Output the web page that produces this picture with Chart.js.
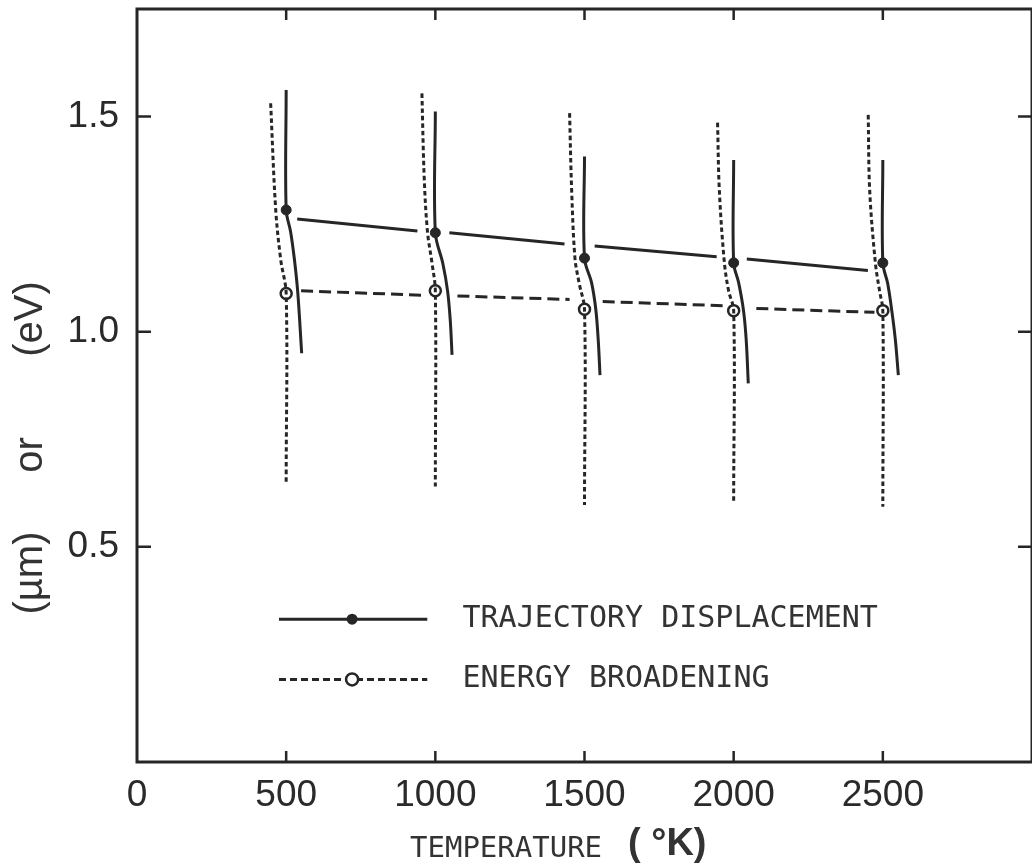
<!DOCTYPE html>
<html>
<head>
<meta charset="utf-8">
<script src="https://cdn.jsdelivr.net/npm/chart.js@4.4.1/dist/chart.umd.min.js"></script>
<style>
    html, body { margin: 0; padding: 0; background: #fff; overflow: hidden; }
    #wrap { position: relative; width: 1040px; height: 866px; }
</style>
</head>
<body>
<div id="wrap"><canvas id="chart"></canvas></div>
<script>
// Temperatures and point values
const temps = [500, 1000, 1500, 2000, 2500];
const trajValues = [1.283, 1.230, 1.171, 1.160, 1.160];
const energyValues = [1.089, 1.095, 1.052, 1.049, 1.049];

const xTickValues = [0, 500, 1000, 1500, 2000, 2500];
const yTickValues = [0.5, 1.0, 1.5];
const xTickLabels = ['0', '500', '1000', '1500', '2000', '2500'];
const yTickLabels = ['0.5', '1.0', '1.5'];

// Solid bars (trajectory displacement), top -> marker -> bent tail
const trajCurve500 = [[500, 1.562], [500, 1.283], [515, 1.232], [528, 1.166], [539, 1.090], [552, 0.950]];
const trajCurve1000 = [[1000, 1.512], [1000, 1.230], [1025, 1.159], [1041, 1.095], [1050, 1.027], [1056, 0.946]];
const trajCurve1500 = [[1500, 1.407], [1500, 1.171], [1524, 1.113], [1538, 1.051], [1546, 0.981], [1552, 0.899]];
const trajCurve2000 = [[2000, 1.399], [2000, 1.160], [2017, 1.113], [2033, 1.049], [2042, 0.981], [2049, 0.880]];
const trajCurve2500 = [[2500, 1.399], [2500, 1.160], [2516, 1.113], [2530, 1.049], [2542, 0.981], [2552, 0.899]];

// Dotted bars (energy broadening), slanted top -> marker -> straight down
const energyCurve500 = [[448, 1.531], [465, 1.283], [482, 1.166], [500, 1.089], [500, 0.647]];
const energyCurve1000 = [[955, 1.554], [963, 1.353], [974, 1.230], [989, 1.159], [1000, 1.095], [1000, 0.640]];
const energyCurve1500 = [[1450, 1.508], [1457, 1.328], [1468, 1.171], [1482, 1.113], [1500, 1.052], [1500, 0.597]];
const energyCurve2000 = [[1946, 1.486], [1952, 1.328], [1969, 1.160], [1983, 1.095], [2000, 1.049], [2000, 0.607]];
const energyCurve2500 = [[2451, 1.504], [2456, 1.328], [2475, 1.160], [2489, 1.095], [2500, 1.049], [2500, 0.593]];

// Fitted lines, broken around each bar (null = gap)
const trajFit = [[537, 1.262], [940, 1.234], [990, null], [1047, 1.230], [1433, 1.204], [1480, null],
                 [1534, 1.199], [1943, 1.174], [1990, null], [2044, 1.169], [2450, 1.142]];
const energyFit = [[550, 1.095], [953, 1.085], [1010, null], [1074, 1.083], [1450, 1.075], [1500, null],
                   [1561, 1.070], [1981, 1.060], [2030, null], [2076, 1.054], [2472, 1.045]];

const INK = '#262626';
const numFont = { family: '"Liberation Sans", Arial, sans-serif', size: 37 };

function toXY(points) {
    return points.map(p => ({ x: p[0], y: p[1] }));
}

function solidCurve(points) {
    return { data: toXY(points), showLine: true, borderColor: INK, borderWidth: 3, pointRadius: 0, tension: 0.35 };
}

function dottedCurve(points) {
    return { data: toXY(points), showLine: true, borderColor: INK, borderWidth: 3, borderDash: [4.5, 3], pointRadius: 0, tension: 0.35 };
}

const datasets = [
    ...[trajCurve500, trajCurve1000, trajCurve1500, trajCurve2000, trajCurve2500].map(solidCurve),
    ...[energyCurve500, energyCurve1000, energyCurve1500, energyCurve2000, energyCurve2500].map(dottedCurve),
    { data: toXY(trajFit), showLine: true, spanGaps: false, borderColor: INK, borderWidth: 3, pointRadius: 0, tension: 0 },
    { data: toXY(energyFit), showLine: true, spanGaps: false, borderColor: INK, borderWidth: 3, borderDash: [12, 6], pointRadius: 0, tension: 0 },
    {
        data: temps.map((t, i) => ({ x: t, y: trajValues[i] })),
        showLine: false, pointRadius: 5, pointBackgroundColor: INK, pointBorderColor: INK, pointBorderWidth: 1
    },
    {
        data: temps.map((t, i) => ({ x: t, y: energyValues[i] })),
        showLine: false, pointRadius: 5.5, pointBackgroundColor: '#fff', pointBorderColor: INK, pointBorderWidth: 2.5
    }
];

// Frame, inward ticks, legend and axis titles
const decorPlugin = {
    id: 'decor',
    afterDraw(chart) {
        const { ctx, chartArea: a, scales } = chart;
        const xs = scales.x, ys = scales.y;
        ctx.save();
        ctx.strokeStyle = INK;
        ctx.lineWidth = 3;
        ctx.strokeRect(a.left, a.top, a.right - a.left, a.bottom - a.top);

        ctx.lineWidth = 2.5;
        ctx.beginPath();
        xTickValues.slice(1).forEach(v => {
            const px = xs.getPixelForValue(v);
            ctx.moveTo(px, a.top); ctx.lineTo(px, a.top + 11);
            ctx.moveTo(px, a.bottom); ctx.lineTo(px, a.bottom - 11);
        });
        yTickValues.forEach(v => {
            const py = ys.getPixelForValue(v);
            ctx.moveTo(a.left, py); ctx.lineTo(a.left + 14, py);
            ctx.moveTo(a.right, py); ctx.lineTo(a.right - 14, py);
        });
        ctx.stroke();

        // legend
        const l0 = xs.getPixelForValue(476), l1 = xs.getPixelForValue(973), lm = xs.getPixelForValue(721);
        const r1 = ys.getPixelForValue(0.332), r2 = ys.getPixelForValue(0.192);
        ctx.lineWidth = 3;
        ctx.beginPath(); ctx.moveTo(l0, r1); ctx.lineTo(l1, r1); ctx.stroke();
        ctx.setLineDash([7, 4]);
        ctx.beginPath(); ctx.moveTo(l0, r2); ctx.lineTo(l1, r2); ctx.stroke();
        ctx.setLineDash([]);
        ctx.fillStyle = INK;
        ctx.beginPath(); ctx.arc(lm, r1, 5.5, 0, Math.PI * 2); ctx.fill();
        ctx.fillStyle = '#fff';
        ctx.lineWidth = 2.5;
        ctx.beginPath(); ctx.arc(lm, r2, 6, 0, Math.PI * 2); ctx.fill(); ctx.stroke();

        ctx.fillStyle = '#333';
        ctx.font = '30px "DejaVu Sans Mono", monospace';
        ctx.textAlign = 'left';
        ctx.textBaseline = 'middle';
        const tx = xs.getPixelForValue(1091);
        ctx.fillText('TRAJECTORY DISPLACEMENT', tx, r1);
        ctx.fillText('ENERGY BROADENING', tx, r2);

        // x title
        ctx.font = '29px "DejaVu Sans Mono", monospace';
        ctx.fillText('TEMPERATURE', 410, 849);
        ctx.font = 'bold 38px "Liberation Sans", Arial, sans-serif';
        ctx.fillText('( °K)', 628, 845);

        // y title
        ctx.font = '40px "Liberation Sans", Arial, sans-serif';
        ctx.textAlign = 'center';
        [['(eV)', 319], ['or', 455], ['(\u00b5m)', 573]].forEach(([t, y]) => {
            ctx.save();
            ctx.translate(31, y);
            ctx.rotate(-Math.PI / 2);
            ctx.fillText(t, 0, 0);
            ctx.restore();
        });
        ctx.restore();
    }
};

new Chart(document.getElementById('chart'), {
    type: 'scatter',
    data: { datasets },
    options: {
        responsive: true,
        maintainAspectRatio: false,
        animation: false,
        layout: { padding: { top: 9, right: 7, left: 0, bottom: 0 } },
        plugins: { legend: { display: false }, tooltip: { enabled: false } },
        scales: {
            x: {
                type: 'linear', min: 0, max: 3000,
                afterBuildTicks: s => { s.ticks = xTickValues.map(v => ({ value: v })); },
                afterFit: s => { s.height = 104; s.paddingLeft = 0; s.paddingRight = 0; },
                grid: { display: false, drawTicks: false },
                border: { display: false },
                ticks: {
                    padding: 12, maxRotation: 0, color: '#2a2a2a', font: numFont,
                    callback: v => xTickLabels[xTickValues.indexOf(v)]
                }
            },
            y: {
                type: 'linear', min: 0, max: 1.75,
                afterBuildTicks: s => { s.ticks = yTickValues.map(v => ({ value: v })); },
                afterFit: s => { s.width = 137; s.paddingTop = 0; s.paddingBottom = 0; },
                grid: { display: false, drawTicks: false },
                border: { display: false },
                ticks: {
                    padding: 18, color: '#2a2a2a', font: numFont,
                    callback: v => yTickLabels[yTickValues.indexOf(v)]
                }
            }
        }
    },
    plugins: [decorPlugin]
});
</script>
</body>
</html>
